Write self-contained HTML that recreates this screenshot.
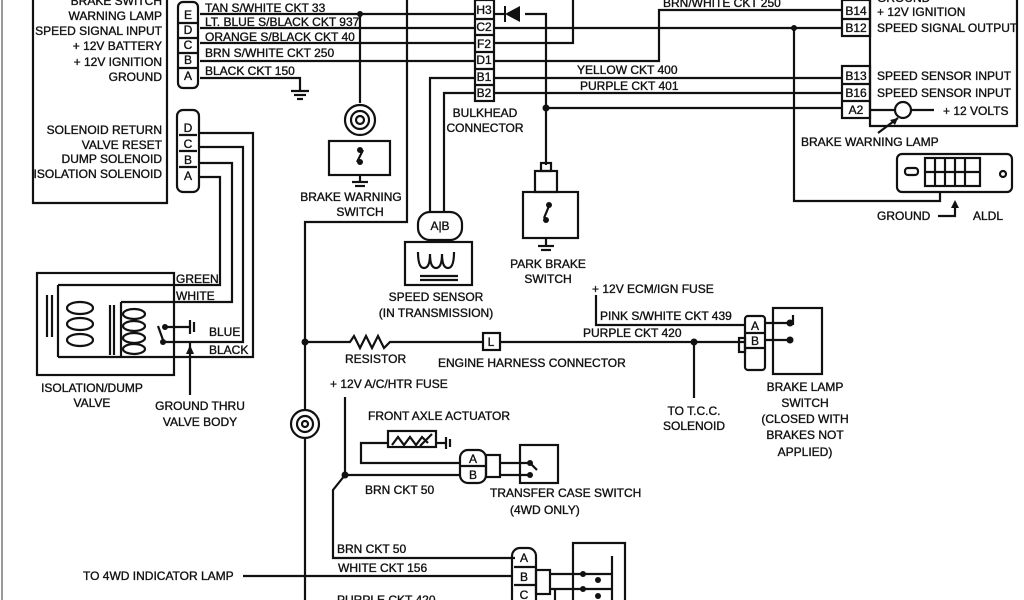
<!DOCTYPE html>
<html><head><meta charset="utf-8"><style>
html,body{margin:0;padding:0;background:#fff;}
svg{display:block;}
text{font-family:"Liberation Sans",sans-serif;font-size:12px;fill:#111;stroke:#111;stroke-width:0.35;}
</style></head><body>
<svg width="1024" height="600" viewBox="0 0 1024 600" xmlns="http://www.w3.org/2000/svg">
<rect width="1024" height="600" fill="#fff"/>
<line x1="2" y1="0" x2="2" y2="600" stroke="#999" stroke-width="2"/>
<g fill="none" stroke="#111" stroke-width="2.2">
<polyline points="33,0 33,203 167,203 167,0"/>
<rect x="178" y="2" width="20" height="86" rx="5"/>
<line x1="178" y1="23" x2="198" y2="23"/><line x1="178" y1="38" x2="198" y2="38"/><line x1="178" y1="53" x2="198" y2="53"/><line x1="178" y1="68" x2="198" y2="68"/>
<rect x="177" y="110" width="22" height="82" rx="6"/>
<line x1="179" y1="135" x2="197" y2="135"/><line x1="179" y1="151" x2="197" y2="151"/><line x1="179" y1="167" x2="197" y2="167"/>
<line x1="200" y1="14" x2="475" y2="14"/>
<line x1="200" y1="28" x2="475" y2="28"/>
<line x1="200" y1="43" x2="475" y2="43"/>
<line x1="200" y1="61" x2="475" y2="61"/>
<polyline points="200,78 300,78 300,90"/>
<line x1="291" y1="91" x2="309" y2="91"/><line x1="294" y1="95" x2="306" y2="95"/><line x1="297" y1="99" x2="303" y2="99"/>
<line x1="360" y1="14" x2="360" y2="103"/>
<circle cx="360" cy="120" r="15"/><circle cx="360" cy="120" r="9"/><circle cx="360" cy="120" r="4"/>
<rect x="329" y="141" width="61" height="34"/>
<line x1="360" y1="175" x2="360" y2="181"/><line x1="352" y1="182" x2="368" y2="182"/><line x1="355" y1="186" x2="365" y2="186"/>
<line x1="357" y1="162" x2="363" y2="150"/>
<polyline points="407,0 407,222 305,222 305,410"/>
<line x1="305" y1="438" x2="305" y2="600"/>
<circle cx="305" cy="424" r="14"/><circle cx="305" cy="424" r="8"/><circle cx="305" cy="424" r="3"/>
<rect x="475" y="0" width="19" height="101"/>
<line x1="475" y1="19" x2="494" y2="19"/><line x1="475" y1="35" x2="494" y2="35"/><line x1="475" y1="52" x2="494" y2="52"/><line x1="475" y1="69" x2="494" y2="69"/><line x1="475" y1="85" x2="494" y2="85"/>
<polyline points="475,78 430,78 430,212"/>
<polyline points="475,93 444,93 444,212"/>
<rect x="418" y="212" width="44" height="28" rx="12"/>
<rect x="405" y="242" width="67" height="43"/>
<path d="M418,252 q0,16 6,16 q6,0 6,-14 q0,14 6,14 q6,0 6,-14 q0,14 6,14 q6,0 6,-16"/>
<line x1="420" y1="276" x2="458" y2="276"/><line x1="420" y1="280" x2="458" y2="280"/>
<line x1="494" y1="14" x2="505" y2="14"/>
<polyline points="525,14 546,14 546,165"/>
<line x1="494" y1="28" x2="842" y2="28"/>
<polyline points="494,43 573,43 573,0"/>
<polyline points="494,61 659,61 659,10 842,10"/>
<line x1="494" y1="78" x2="842" y2="78"/>
<line x1="494" y1="93" x2="842" y2="93"/>
<line x1="546" y1="108" x2="842" y2="108"/>
<rect x="541" y="163" width="10" height="8"/>
<rect x="535" y="171" width="22" height="21"/>
<rect x="523" y="192" width="55" height="46"/>
<line x1="546" y1="238" x2="546" y2="246"/><line x1="538" y1="246" x2="554" y2="246"/><line x1="541" y1="250" x2="551" y2="250"/>
<line x1="544" y1="218" x2="549" y2="206"/>
<rect x="842" y="0" width="28" height="36"/><line x1="842" y1="19" x2="870" y2="19"/>
<rect x="842" y="66" width="28" height="52"/><line x1="842" y1="84" x2="870" y2="84"/><line x1="842" y1="101" x2="870" y2="101"/>
<polyline points="870,0 870,126 1017,126 1017,0"/>
<line x1="870" y1="110" x2="895" y2="110"/><line x1="911" y1="110" x2="934" y2="110"/>
<circle cx="903" cy="110" r="8"/>
<line x1="878" y1="133" x2="898" y2="118"/>
<polyline points="794,28 794,201 940,201 940,193"/>
<rect x="897" y="154" width="115" height="38" rx="5"/>
<rect x="925" y="158" width="55" height="28"/>
<line x1="935" y1="158" x2="935" y2="186"/><line x1="945" y1="158" x2="945" y2="186"/><line x1="955" y1="158" x2="955" y2="186"/><line x1="965" y1="158" x2="965" y2="186"/><line x1="925" y1="172" x2="980" y2="172"/>
<rect x="905" y="168" width="13" height="7" rx="3"/><circle cx="1003" cy="174" r="3"/>
<polyline points="938,216 955,216 955,202"/>
<polyline points="200,177 220,177 220,285 58,285"/>
<polyline points="200,163 232,163 232,302 121,302"/>
<polyline points="200,147 243,147 243,342 163,342"/>
<polyline points="200,133 253,133 253,357 121,357"/>
<line x1="165" y1="327" x2="190" y2="327"/><line x1="190" y1="320" x2="190" y2="334"/><line x1="194" y1="322" x2="194" y2="332"/>
<line x1="190" y1="342" x2="190" y2="395"/>
<rect x="37" y="273" width="137" height="102"/>
<line x1="58" y1="285" x2="58" y2="357"/><line x1="58" y1="357" x2="121" y2="357"/>
<line x1="121" y1="302" x2="121" y2="357"/>
<line x1="47" y1="295" x2="47" y2="337"/><line x1="52" y1="295" x2="52" y2="337"/>
<line x1="110" y1="305" x2="110" y2="355"/><line x1="114" y1="305" x2="114" y2="355"/>
<ellipse cx="80" cy="308" rx="13" ry="6"/><ellipse cx="80" cy="324" rx="13" ry="6"/><ellipse cx="80" cy="340" rx="13" ry="6"/>
<ellipse cx="134" cy="314" rx="11" ry="5"/><ellipse cx="134" cy="326" rx="11" ry="5"/><ellipse cx="134" cy="338" rx="11" ry="5"/><ellipse cx="134" cy="349" rx="11" ry="5"/>
<line x1="158" y1="326" x2="163" y2="340"/>
<polyline points="305,342 350,342 354,336 360,348 366,336 372,348 378,336 384,348 390,342 483,342"/>
<rect x="483" y="333" width="17" height="17"/>
<line x1="500" y1="342" x2="745" y2="342"/>
<line x1="694" y1="342" x2="694" y2="398"/>
<polyline points="596,295 596,325 745,325"/>
<rect x="745" y="316" width="20" height="54" rx="3"/>
<line x1="745" y1="333" x2="765" y2="333"/><line x1="745" y1="348" x2="765" y2="348"/>
<rect x="739" y="338" width="6" height="14"/>
<rect x="773" y="308" width="49" height="66"/>
<line x1="765" y1="323" x2="790" y2="323"/><line x1="765" y1="340" x2="790" y2="340"/>
<line x1="793" y1="315" x2="793" y2="325"/>
<polyline points="345,397 345,475 333,490 333,558 515,558"/>
<line x1="345" y1="475" x2="460" y2="475"/>
<polyline points="460,463 361,463 361,443 388,443"/>
<rect x="388" y="431" width="48" height="16"/>
<polyline points="392,445 398,437 404,445 410,437 416,445 422,437 428,443"/>
<line x1="420" y1="446" x2="432" y2="434"/>
<line x1="436" y1="443" x2="446" y2="443"/><line x1="446" y1="437" x2="446" y2="449"/><line x1="450" y1="439" x2="450" y2="447"/>
<rect x="460" y="450" width="26" height="33" rx="8"/>
<line x1="460" y1="466" x2="486" y2="466"/>
<rect x="486" y="455" width="14" height="22"/>
<line x1="500" y1="463" x2="530" y2="463"/><line x1="500" y1="475" x2="530" y2="475"/>
<rect x="520" y="445" width="38" height="38"/>
<line x1="530" y1="463" x2="537" y2="470"/>
<line x1="243" y1="576" x2="512" y2="576"/>
<rect x="512" y="548" width="24" height="60" rx="8"/>
<line x1="514" y1="567" x2="536" y2="567"/><line x1="514" y1="585" x2="536" y2="585"/>
<rect x="536" y="570" width="14" height="24"/>
<rect x="573" y="543" width="52" height="70"/>
<line x1="550" y1="574" x2="612" y2="574"/><line x1="550" y1="589" x2="612" y2="589"/>
<line x1="612" y1="556" x2="612" y2="600"/>
<line x1="555" y1="600" x2="555" y2="590"/>
</g>
<g fill="#111">
<circle cx="360" cy="14" r="3"/><circle cx="794" cy="28" r="3"/><circle cx="546" cy="108" r="3.5"/>
<circle cx="305" cy="342" r="3.5"/><circle cx="694" cy="342" r="3.5"/><circle cx="345" cy="475" r="3.5"/>
<circle cx="165" cy="327" r="3"/><circle cx="163" cy="342" r="3"/>
<circle cx="360" cy="150" r="3"/><circle cx="360" cy="162" r="3"/>
<circle cx="549" cy="205" r="3"/><circle cx="546" cy="220" r="3"/>
<circle cx="790" cy="323" r="3.5"/><circle cx="790" cy="340" r="3.5"/>
<circle cx="530" cy="463" r="3"/><circle cx="530" cy="475" r="3"/>
<circle cx="583" cy="574" r="3"/><circle cx="598" cy="580" r="3"/><circle cx="583" cy="589" r="3"/><circle cx="598" cy="596" r="3"/>
<polygon points="505,14 520,6 520,22"/><line x1="505" y1="6" x2="505" y2="22" stroke="#111" stroke-width="2"/>
<polygon points="190,345 186,354 194,354"/><polygon points="898,118 890,120 895,125"/><polygon points="955,200 951,208 959,208"/>
</g>
<g>
<text x="162" y="5" text-anchor="end">BRAKE SWITCH</text>
<text x="162" y="20" text-anchor="end">WARNING LAMP</text>
<text x="162" y="35" text-anchor="end">SPEED SIGNAL INPUT</text>
<text x="162" y="50" text-anchor="end">+ 12V BATTERY</text>
<text x="162" y="66" text-anchor="end">+ 12V IGNITION</text>
<text x="162" y="81" text-anchor="end">GROUND</text>
<text x="188" y="19" text-anchor="middle" font-size="11">E</text>
<text x="188" y="34" text-anchor="middle" font-size="11">D</text>
<text x="188" y="49" text-anchor="middle" font-size="11">C</text>
<text x="188" y="64" text-anchor="middle" font-size="11">B</text>
<text x="188" y="80" text-anchor="middle" font-size="11">A</text>
<text x="205" y="12">TAN S/WHITE CKT 33</text>
<text x="205" y="26">LT. BLUE S/BLACK CKT 937</text>
<text x="205" y="41">ORANGE S/BLACK CKT 40</text>
<text x="205" y="57">BRN S/WHITE CKT 250</text>
<text x="205" y="75">BLACK CKT 150</text>
<text x="162" y="134" text-anchor="end">SOLENOID RETURN</text>
<text x="162" y="149" text-anchor="end">VALVE RESET</text>
<text x="162" y="163" text-anchor="end">DUMP SOLENOID</text>
<text x="162" y="178" text-anchor="end">ISOLATION SOLENOID</text>
<text x="188" y="132" text-anchor="middle" font-size="11">D</text>
<text x="188" y="148" text-anchor="middle" font-size="11">C</text>
<text x="188" y="164" text-anchor="middle" font-size="11">B</text>
<text x="188" y="180" text-anchor="middle" font-size="11">A</text>
<text x="484" y="14" text-anchor="middle" font-size="11">H3</text>
<text x="484" y="31" text-anchor="middle" font-size="11">C2</text>
<text x="484" y="48" text-anchor="middle" font-size="11">F2</text>
<text x="484" y="64" text-anchor="middle" font-size="11">D1</text>
<text x="484" y="81" text-anchor="middle" font-size="11">B1</text>
<text x="484" y="97" text-anchor="middle" font-size="11">B2</text>
<text x="485" y="117" text-anchor="middle">BULKHEAD</text>
<text x="485" y="132" text-anchor="middle">CONNECTOR</text>
<text x="351" y="201" text-anchor="middle">BRAKE WARNING</text>
<text x="360" y="216" text-anchor="middle">SWITCH</text>
<text x="440" y="230" text-anchor="middle" font-size="11">A|B</text>
<text x="436" y="301" text-anchor="middle">SPEED SENSOR</text>
<text x="436" y="317" text-anchor="middle">(IN TRANSMISSION)</text>
<text x="548" y="268" text-anchor="middle">PARK BRAKE</text>
<text x="548" y="283" text-anchor="middle">SWITCH</text>
<text x="663" y="7">BRN/WHITE CKT 250</text>
<text x="577" y="74">YELLOW CKT 400</text>
<text x="580" y="90">PURPLE CKT 401</text>
<text x="856" y="15" text-anchor="middle" font-size="11">B14</text>
<text x="856" y="32" text-anchor="middle" font-size="11">B12</text>
<text x="856" y="80" text-anchor="middle" font-size="11">B13</text>
<text x="856" y="97" text-anchor="middle" font-size="11">B16</text>
<text x="856" y="114" text-anchor="middle" font-size="11">A2</text>
<text x="877" y="2">GROUND</text>
<text x="877" y="16">+ 12V IGNITION</text>
<text x="877" y="32">SPEED SIGNAL OUTPUT</text>
<text x="877" y="80">SPEED SENSOR INPUT</text>
<text x="877" y="97">SPEED SENSOR INPUT</text>
<text x="943" y="115">+ 12 VOLTS</text>
<text x="801" y="146">BRAKE WARNING LAMP</text>
<text x="877" y="220">GROUND</text>
<text x="973" y="220">ALDL</text>
<text x="176" y="283">GREEN</text>
<text x="176" y="300">WHITE</text>
<text x="209" y="336">BLUE</text>
<text x="209" y="354">BLACK</text>
<text x="92" y="392" text-anchor="middle">ISOLATION/DUMP</text>
<text x="92" y="407" text-anchor="middle">VALVE</text>
<text x="200" y="410" text-anchor="middle">GROUND THRU</text>
<text x="200" y="426" text-anchor="middle">VALVE BODY</text>
<text x="345" y="363">RESISTOR</text>
<text x="491" y="346" text-anchor="middle" font-size="10">L</text>
<text x="438" y="367">ENGINE HARNESS CONNECTOR</text>
<text x="592" y="293">+ 12V ECM/IGN FUSE</text>
<text x="600" y="320">PINK S/WHITE CKT 439</text>
<text x="583" y="337">PURPLE CKT 420</text>
<text x="755" y="330" text-anchor="middle" font-size="10">A</text>
<text x="755" y="345" text-anchor="middle" font-size="10">B</text>
<text x="694" y="415" text-anchor="middle">TO T.C.C.</text>
<text x="694" y="430" text-anchor="middle">SOLENOID</text>
<text x="805" y="391" text-anchor="middle">BRAKE LAMP</text>
<text x="805" y="407" text-anchor="middle">SWITCH</text>
<text x="805" y="423" text-anchor="middle">(CLOSED WITH</text>
<text x="805" y="439" text-anchor="middle">BRAKES NOT</text>
<text x="805" y="456" text-anchor="middle">APPLIED)</text>
<text x="330" y="388">+ 12V A/C/HTR FUSE</text>
<text x="368" y="420">FRONT AXLE ACTUATOR</text>
<text x="473" y="463" text-anchor="middle" font-size="11">A</text>
<text x="473" y="479" text-anchor="middle" font-size="11">B</text>
<text x="365" y="494">BRN CKT 50</text>
<text x="490" y="497">TRANSFER CASE SWITCH</text>
<text x="510" y="514">(4WD ONLY)</text>
<text x="337" y="553">BRN CKT 50</text>
<text x="338" y="572">WHITE CKT 156</text>
<text x="83" y="580">TO 4WD INDICATOR LAMP</text>
<text x="524" y="562" text-anchor="middle" font-size="11">A</text>
<text x="524" y="581" text-anchor="middle" font-size="11">B</text>
<text x="524" y="599" text-anchor="middle" font-size="11">C</text>
<text x="337" y="604">PURPLE CKT 420</text>
</g>
</svg>
</body></html>
